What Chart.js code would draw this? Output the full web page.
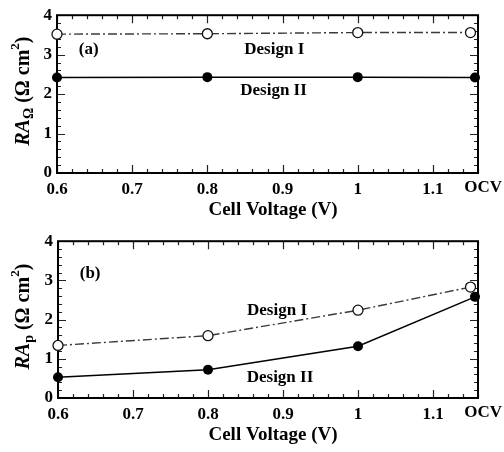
<!DOCTYPE html>
<html>
<head>
<meta charset="utf-8">
<script src="https://cdn.jsdelivr.net/npm/chart.js@4.4.1/dist/chart.umd.min.js"></script>
<style>
    body { margin: 0; background: #fff; }
    canvas { display: block; }
</style>
</head>
<body>
<canvas id="chartA" width="504" height="226"></canvas>
<canvas id="chartB" width="504" height="226"></canvas>
<script>
// cell voltage of each point (last point = OCV)
const voltageI = [0.6, 0.8, 1.0, 1.15];
const voltageII = [0.6, 0.8, 1.0, 1.156];

// panel (a): ohmic ASR
const ohmicI = [3.52, 3.53, 3.56, 3.56];
const ohmicII = [2.42, 2.43, 2.43, 2.42];

// panel (b): polarization ASR
const polI = [1.34, 1.59, 2.24, 2.83];
const polII = [0.53, 0.72, 1.32, 2.58];

const xMin = 0.6, xMax = 1.16;
const yMin = 0, yMax = 4;

const serif = '"Liberation Serif", "DejaVu Serif", serif';

function toPoints(xs, ys) {
    return xs.map((x, i) => ({ x: x, y: ys[i] }));
}

// frame, inward ticks, annotations and rich axis titles
const paperPlugin = {
    id: 'paper',
    beforeDatasetsDraw(chart, args, opts) {
        const c = chart.ctx;
        const a = chart.chartArea;
        const xs = chart.scales.x;
        const ys = chart.scales.y;
        c.save();
        c.strokeStyle = '#222';
        c.lineWidth = 1.2;
        // x ticks, every 0.02, major every 0.1
        for (let i = 0; ; i++) {
            const v = xMin + i * 0.02;
            if (v > xMax + 1e-9) break;
            const px = Math.round(xs.getPixelForValue(v)) + 0.5;
            const len = i % 5 === 0 ? 8 : 4;
            c.beginPath();
            c.moveTo(px, a.bottom); c.lineTo(px, a.bottom - len);
            c.moveTo(px, a.top); c.lineTo(px, a.top + len);
            c.stroke();
        }
        // y ticks, every 0.2, major every 1
        for (let i = 0; i <= 20; i++) {
            const v = yMin + i * 0.2;
            const py = Math.round(ys.getPixelForValue(v)) + 0.5;
            const len = i % 5 === 0 ? 8 : 4;
            c.beginPath();
            c.moveTo(a.left, py); c.lineTo(a.left + len, py);
            c.moveTo(a.right, py); c.lineTo(a.right - len, py);
            c.stroke();
        }
        c.strokeStyle = '#000';
        c.lineWidth = 2;
        c.strokeRect(a.left, a.top, a.right - a.left, a.bottom - a.top);

        // text labels placed in data coordinates
        c.fillStyle = '#000';
        c.font = 'bold 17px ' + serif;
        c.textBaseline = 'middle';
        opts.notes.forEach(n => {
            c.textAlign = n.align || 'center';
            c.fillText(n.text, xs.getPixelForValue(n.x), ys.getPixelForValue(n.y));
        });

        // OCV label beside the 1.1 tick
        c.textAlign = 'center';
        c.textBaseline = 'top';
        c.font = 'bold 17px ' + serif;
        c.fillText('OCV', xs.getPixelForValue(1.167), a.bottom + 6);

        // x title
        c.textBaseline = 'middle';
        c.font = 'bold 19px ' + serif;
        c.fillText('Cell Voltage (V)', 273, a.bottom + 37);

        // y title with subscript and superscript
        const parts = [
            { t: 'RA', f: 'italic bold 20px ', dy: 0 },
            { t: opts.sub, f: 'bold 14px ', dy: 5 },
            { t: ' (\u03A9 cm', f: 'bold 20px ', dy: 0 },
            { t: '2', f: 'bold 13px ', dy: -8 },
            { t: ')', f: 'bold 20px ', dy: 0 }
        ];
        let total = 0;
        parts.forEach(p => { c.font = p.f + serif; p.w = c.measureText(p.t).width; total += p.w; });
        c.translate(24, (a.top + a.bottom) / 2 - 3);
        c.rotate(-Math.PI / 2);
        c.textAlign = 'left';
        let pos = -total / 2;
        parts.forEach(p => {
            c.font = p.f + serif;
            c.fillText(p.t, pos, p.dy);
            pos += p.w;
        });
        c.restore();
    }
};

function makePanel(id, seriesI, seriesII, leftEdge, bottomEdge, notes, sub) {

    const ctx = document.getElementById(id);

    const data = {
        datasets: [{
            label: 'Design I',
            data: toPoints(voltageI, seriesI),
            borderColor: '#3a3a3a',
            borderWidth: 1.4,
            borderDash: [9, 3, 2, 3],
            pointRadius: 5,
            pointBorderWidth: 1.3,
            pointBorderColor: '#111',
            pointBackgroundColor: '#fff',
            clip: false
        }, {
            label: 'Design II',
            data: toPoints(voltageII, seriesII),
            borderColor: '#000',
            borderWidth: 1.5,
            pointRadius: 5,
            pointBorderWidth: 0,
            pointBackgroundColor: '#000',
            clip: false
        }]
    };

    const options = {
        responsive: false,
        animation: false,
        devicePixelRatio: 1,
        layout: { padding: { top: 12, right: 26, left: 0, bottom: 0 } },
        plugins: {
            legend: { display: false },
            tooltip: { enabled: false },
            paper: { notes: notes, sub: sub }
        },
        scales: {
            x: {
                type: 'linear',
                min: xMin,
                max: xMax,
                grid: { display: false, drawTicks: false },
                border: { display: false },
                afterFit: s => { s.height = 226 - bottomEdge; },
                ticks: {
                    stepSize: 0.1,
                    includeBounds: false,
                    padding: 6,
                    color: '#000',
                    font: { family: serif, size: 17, weight: 'bold' },
                    maxRotation: 0,
                    callback: v => String(Number(v.toFixed(2)))
                }
            },
            y: {
                min: yMin,
                max: yMax,
                grid: { display: false, drawTicks: false },
                border: { display: false },
                afterFit: s => { s.width = leftEdge; },
                ticks: {
                    stepSize: 1,
                    padding: 5,
                    color: '#000',
                    font: { family: serif, size: 17, weight: 'bold' }
                }
            }
        }
    };

    return new Chart(ctx, {
        type: 'line',
        data: data,
        options: options,
        plugins: [paperPlugin]
    });
}

makePanel('chartA', ohmicI, ohmicII, 57, 173, [
    { text: '(a)', x: 0.629, y: 3.13, align: 'left' },
    { text: 'Design I', x: 0.889, y: 3.13 },
    { text: 'Design II', x: 0.888, y: 2.09 }
], '\u03A9');

makePanel('chartB', polI, polII, 58, 172, [
    { text: '(b)', x: 0.629, y: 3.18, align: 'left' },
    { text: 'Design I', x: 0.892, y: 2.23 },
    { text: 'Design II', x: 0.896, y: 0.53 }
], 'p');
</script>
</body>
</html>
